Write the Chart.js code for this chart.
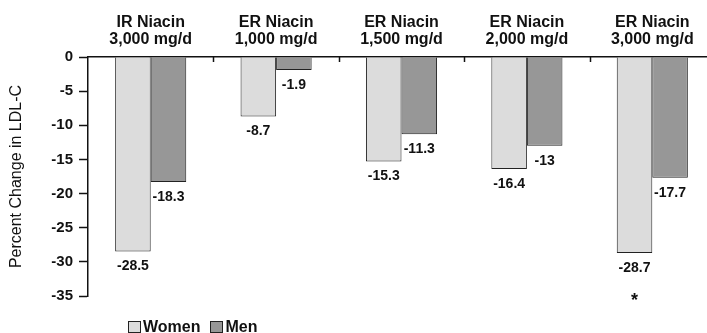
<!DOCTYPE html>
<html>
<head>
<meta charset="utf-8">
<script src="https://cdn.jsdelivr.net/npm/chart.js@4.4.1/dist/chart.umd.min.js"></script>
<style>
  html, body { margin: 0; padding: 0; background: #fff; overflow: hidden; width: 707px; height: 333px; }
  #wrap { position: relative; width: 707px; height: 333px; overflow: hidden; }
  #c { position: absolute; left: 0; top: 0; }
  #legend { position: absolute; left: 128px; top: 318px; display: flex; align-items: center;
    font-family: "Liberation Sans", Arial, sans-serif; font-weight: bold; font-size: 16px; color: #111; }
  .item { display: flex; align-items: center; margin-right: 10px; }
  .box { width: 11px; height: 10px; border: 1px solid #222; margin-right: 2px; }
</style>
</head>
<body>
<div id="wrap">
  <canvas id="c" width="715" height="333"></canvas>
  <div id="legend"></div>
</div>
<script>
const categories = [
  ["IR Niacin", "3,000 mg/d"],
  ["ER Niacin", "1,000 mg/d"],
  ["ER Niacin", "1,500 mg/d"],
  ["ER Niacin", "2,000 mg/d"],
  ["ER Niacin", "3,000 mg/d"]
];
const seriesNames = ["Women", "Men"];
const women = [-28.5, -8.7, -15.3, -16.4, -28.7];
const men = [-18.3, -1.9, -11.3, -13, -17.7];
const womenNotes = ["", "", "", "", "*"];
const yTitle = "Percent Change in LDL-C";
const yMin = -35, yMax = 0, yStep = 5;

const colors = ["#dcdcdc", "#979797"];
const FONT = '"Liberation Sans", Arial, sans-serif';

const labelPlugin = {
  id: "barLabels",
  afterDatasetsDraw(chart) {
    const ctx = chart.ctx;
    ctx.save();
    ctx.fillStyle = "#111";
    ctx.textAlign = "center";
    chart.data.datasets.forEach((ds, di) => {
      const meta = chart.getDatasetMeta(di);
      meta.data.forEach((bar, i) => {
        ctx.font = "bold 14px " + FONT;
        ctx.textBaseline = "middle";
        ctx.fillText(String(ds.data[i]), bar.x, bar.y + 15);
        const note = ds.notes ? ds.notes[i] : "";
        if (note) {
          ctx.font = "bold 18px " + FONT;
          ctx.textBaseline = "alphabetic";
          ctx.fillText(note, bar.x, bar.y + 53);
        }
      });
    });
    // downward category separator ticks on the top axis
    const xs = chart.scales.x;
    const area = chart.chartArea;
    ctx.strokeStyle = "#111";
    ctx.lineWidth = 1.5;
    const n = chart.data.labels.length;
    for (let i = 0; i < n; i++) {
      const x = (xs.getPixelForValue(i) + (i + 1 < n ? xs.getPixelForValue(i + 1) : 2 * xs.getPixelForValue(i) - xs.getPixelForValue(i - 1))) / 2;
      ctx.beginPath();
      ctx.moveTo(Math.round(x) + 0.5, area.top);
      ctx.lineTo(Math.round(x) + 0.5, area.top + 5);
      ctx.stroke();
    }
    ctx.restore();
  }
};

const chart = new Chart(document.getElementById("c"), {
  type: "bar",
  data: {
    labels: categories,
    datasets: [
      { label: seriesNames[0], data: women, notes: womenNotes, backgroundColor: colors[0], borderColor: "#222", borderWidth: 1 },
      { label: seriesNames[1], data: men, backgroundColor: colors[1], borderColor: "#222", borderWidth: 1 }
    ]
  },
  options: {
    responsive: false,
    devicePixelRatio: 1,
    animation: false,
    layout: { padding: { top: 0, left: 0, right: 0, bottom: 37 } },
    datasets: { bar: { categoryPercentage: 0.567, barPercentage: 1.0 } },
    plugins: {
      legend: { display: false },
      tooltip: { enabled: false }
    },
    scales: {
      x: {
        position: "top",
        afterFit(s) { s.height = 57; },
        grid: { drawOnChartArea: false, drawTicks: false },
        border: { display: true, color: "#111", width: 1.5 },
        ticks: {
          color: "#111",
          padding: 9,
          maxRotation: 0,
          autoSkip: false,
          font: { family: FONT, size: 16, weight: "bold", lineHeight: "17px" }
        }
      },
      y: {
        min: yMin,
        max: yMax,
        afterFit(s) { s.width = 88; },
        grid: { drawOnChartArea: false, drawTicks: true, tickLength: 9, color: "#111", tickWidth: 1.5 },
        border: { display: true, color: "#111", width: 1.5 },
        ticks: {
          stepSize: yStep,
          color: "#111",
          padding: 6,
          font: { family: FONT, size: 15, weight: "bold" }
        },
        title: {
          display: true,
          text: yTitle,
          color: "#111",
          padding: { top: 7, bottom: 0 },
          font: { family: FONT, size: 16, weight: "normal" }
        }
      }
    }
  },
  plugins: [labelPlugin]
});

// HTML legend built from the datasets
const legend = document.getElementById("legend");
chart.data.datasets.forEach(ds => {
  const item = document.createElement("div");
  item.className = "item";
  const box = document.createElement("span");
  box.className = "box";
  box.style.background = ds.backgroundColor;
  const txt = document.createElement("span");
  txt.textContent = ds.label;
  item.appendChild(box);
  item.appendChild(txt);
  legend.appendChild(item);
});
</script>
</body>
</html>
